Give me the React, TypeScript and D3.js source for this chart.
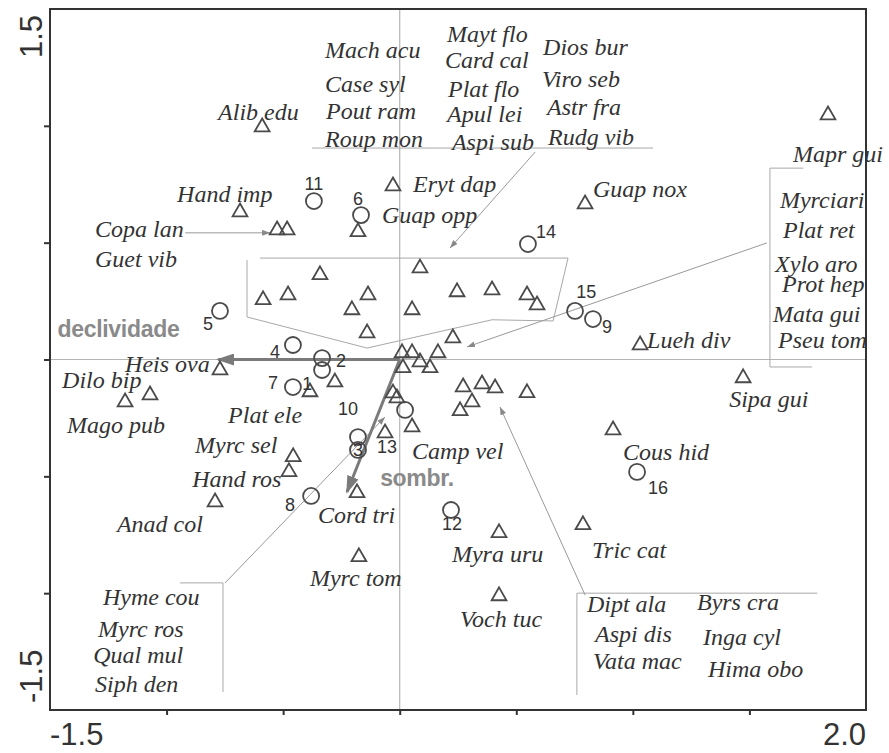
import React, { useRef, useEffect } from 'react';
import * as d3 from 'd3';

// species scores (axis 1, axis 2) for species that carry their own label
const speciesScores: [string, number, number][] = [
  ['Alib edu', -0.59, 0.995], ['Hand imp', -0.685, 0.631], ['Copa lan', -0.526, 0.554],
  ['Guet vib', -0.483, 0.554], ['Eryt dap', -0.029, 0.742], ['Guap opp', -0.179, 0.546],
  ['Guap nox', 0.795, 0.665], ['Mapr gui', 1.837, 1.046], ['Lueh div', 1.031, 0.062],
  ['Sipa gui', 1.473, -0.079], ['Cous hid', 0.915, -0.302], ['Tric cat', 0.786, -0.708],
  ['Myra uru', 0.426, -0.742], ['Voch tuc', 0.426, -1.012], ['Myrc tom', -0.175, -0.845],
  ['Cord tri', -0.183, -0.571], ['Camp vel', 0.053, -0.289], ['Anad col', -0.792, -0.61],
  ['Hand ros', -0.475, -0.481], ['Myrc sel', -0.457, -0.417], ['Plat ele', -0.385, -0.139],
  ['Heis ova', -0.771, -0.045], ['Dilo bip', -1.071, -0.152], ['Mago pub', -1.178, -0.182],
];

// species plotted inside the grouped areas (named in the lists)
const groupedScores: [number, number][] = [
  [-0.342, 0.362], [-0.586, 0.255], [-0.479, 0.276], [-0.136, 0.276], [-0.205, 0.212],
  [-0.14, 0.113], [0.087, 0.391], [0.053, 0.212], [0.246, 0.289], [0.396, 0.297],
  [0.546, 0.276], [0.589, 0.233], [0.228, 0.092], [0.01, 0.028], [0.053, 0.028],
  [0.087, -0.011], [0.164, 0.028], [0.014, -0.036], [0.13, -0.036], [-0.278, -0.097],
  [-0.029, -0.144], [-0.012, -0.165], [-0.063, -0.315], [0.272, -0.118], [0.353, -0.105],
  [0.409, -0.122], [0.31, -0.182], [0.259, -0.22], [0.546, -0.143],
];

// where each species name sits (left end of the baseline, in axis units)
const speciesLabels: [string, number, number][] = [
  ['Alib edu', -0.779, 1.025], ['Hand imp', -0.955, 0.674], ['Copa lan', -1.307, 0.524],
  ['Guet vib', -1.307, 0.396], ['Eryt dap', 0.057, 0.716], ['Guap opp', -0.076, 0.584],
  ['Guap nox', 0.829, 0.695], ['Mapr gui', 1.687, 0.845], ['Lueh div', 1.061, 0.049],
  ['Sipa gui', 1.413, -0.203], ['Cous hid', 0.958, -0.43], ['Tric cat', 0.825, -0.85],
  ['Myra uru', 0.224, -0.867], ['Voch tuc', 0.259, -1.145], ['Myrc tom', -0.385, -0.969],
  ['Cord tri', -0.35, -0.7], ['Camp vel', 0.053, -0.426], ['Anad col', -1.213, -0.738],
  ['Hand ros', -0.89, -0.546], ['Myrc sel', -0.878, -0.4], ['Plat ele', -0.736, -0.272],
  ['Heis ova', -1.178, -0.054], ['Dilo bip', -1.448, -0.122], ['Mago pub', -1.427, -0.316],
];

const topList: [string, number, number][] = [
  ['Mach acu', -0.32, 1.29], ['Case syl', -0.32, 1.145], ['Pout ram', -0.316, 1.029],
  ['Roup mon', -0.32, 0.91], ['Mayt flo', 0.203, 1.359], ['Card cal', 0.194, 1.247],
  ['Plat flo', 0.207, 1.124], ['Apul lei', 0.203, 1.016], ['Aspi sub', 0.224, 0.896],
  ['Dios bur', 0.615, 1.303], ['Viro seb', 0.61, 1.166], ['Astr fra', 0.632, 1.046],
  ['Rudg vib', 0.636, 0.918],
];

const rightList: [string, number, number][] = [
  ['Myrciari', 1.631, 0.647], ['Plat ret', 1.644, 0.52], ['Xylo aro', 1.61, 0.374],
  ['Prot hep', 1.64, 0.289], ['Mata gui', 1.601, 0.16], ['Pseu tom', 1.623, 0.049],
];

const bottomLeftList: [string, number, number][] = [
  ['Hyme cou', -1.273, -1.05], ['Myrc ros', -1.294, -1.188],
  ['Qual mul', -1.315, -1.3], ['Siph den', -1.307, -1.423],
];

const bottomRightList: [string, number, number][] = [
  ['Dipt ala', 0.803, -1.081], ['Aspi dis', 0.838, -1.209], ['Vata mac', 0.829, -1.324],
  ['Byrs cra', 1.275, -1.072], ['Inga cyl', 1.301, -1.222], ['Hima obo', 1.322, -1.359],
];

// sample sites: id, axis 1, axis 2, label position
const sites: [string, number, number, number, number][] = [
  ['1', -0.333, -0.045, -0.397, -0.105], ['2', -0.333, 0.006, -0.252, -0.006],
  ['3', -0.179, -0.387, -0.179, -0.387], ['4', -0.458, 0.062, -0.535, 0.032],
  ['5', -0.771, 0.208, -0.822, 0.152], ['6', -0.166, 0.618, -0.179, 0.687],
  ['7', -0.458, -0.118, -0.543, -0.1], ['8', -0.38, -0.584, -0.471, -0.623],
  ['9', 0.829, 0.173, 0.889, 0.139], ['10', -0.179, -0.332, -0.222, -0.212],
  ['11', -0.368, 0.678, -0.368, 0.751], ['12', 0.22, -0.644, 0.224, -0.704],
  ['13', 0.023, -0.216, -0.054, -0.374], ['14', 0.55, 0.494, 0.628, 0.546],
  ['15', 0.752, 0.208, 0.8, 0.289], ['16', 1.018, -0.481, 1.108, -0.55],
];

// environmental vectors: name, tip, label position
const envVars: [string, number, number, number, number][] = [
  ['declividade', -0.779, 0.0, -1.468, 0.096],
  ['sombr.', -0.226, -0.567, -0.084, -0.54],
];

// connector lines between the name groups and their points
const guideLines: [number, number][][] = [
  [[-0.376, 0.905], [1.087, 0.905]],
  [[-0.599, 0.434], [0.722, 0.434], [0.658, 0.165], [0.396, 0.17], [-0.14, 0.049], [-0.655, 0.182], [-0.655, 0.426]],
  [[1.731, 0.819], [1.588, 0.819], [1.588, -0.032], [1.768, -0.032]],
  [[-0.942, -0.956], [-0.758, -0.956], [-0.758, -1.423]],
  [[1.791, -1.0], [0.76, -1.0], [0.76, -1.436]],
];
const guideArrows: [number, number, number, number][] = [
  [0.581, 0.888, 0.216, 0.477],
  [-0.92, 0.542, -0.556, 0.542],
  [1.575, 0.499, 0.289, 0.054],
  [-0.749, -0.956, -0.063, -0.246],
  [0.795, -1.008, 0.43, -0.203],
];

const W = 889;
const H = 753;

const Biplot = () => {
  const svgRef = useRef<SVGSVGElement>(null);

  useEffect(() => {
    const svg = d3.select(svgRef.current);
    svg.selectAll('*').remove();

    const x = d3.scaleLinear().domain([-1.5, 2.0]).range([50, 866]);
    const y = d3.scaleLinear().domain([-1.5, 1.5]).range([710, 9]);

    const defs = svg.append('defs');
    defs.append('marker')
      .attr('id', 'envHead').attr('viewBox', '0 0 18 12')
      .attr('refX', 16).attr('refY', 6)
      .attr('markerWidth', 18).attr('markerHeight', 12)
      .attr('markerUnits', 'userSpaceOnUse').attr('orient', 'auto')
      .append('path').attr('d', 'M0,0 L18,6 L0,12 Z').attr('fill', '#7a7a7a');
    defs.append('marker')
      .attr('id', 'smallHead').attr('viewBox', '0 0 8 6')
      .attr('refX', 8).attr('refY', 3)
      .attr('markerWidth', 8).attr('markerHeight', 6)
      .attr('markerUnits', 'userSpaceOnUse').attr('orient', 'auto')
      .append('path').attr('d', 'M0,0 L8,3 L0,6 Z').attr('fill', '#888');

    // zero lines
    svg.append('line')
      .attr('x1', x(-1.5)).attr('x2', x(2)).attr('y1', y(0)).attr('y2', y(0))
      .attr('stroke', '#b5b5b5').attr('stroke-width', 1.2);
    svg.append('line')
      .attr('x1', x(0)).attr('x2', x(0)).attr('y1', y(1.5)).attr('y2', y(-1.5))
      .attr('stroke', '#b5b5b5').attr('stroke-width', 1.2);

    // group guides
    const line = d3.line<[number, number]>().x(d => x(d[0])).y(d => y(d[1]));
    svg.selectAll('.guide')
      .data(guideLines)
      .join('path')
      .attr('class', 'guide')
      .attr('d', d => line(d))
      .attr('fill', 'none').attr('stroke', '#a8a8a8').attr('stroke-width', 1);
    svg.selectAll('.guide-arrow')
      .data(guideArrows)
      .join('line')
      .attr('class', 'guide-arrow')
      .attr('x1', d => x(d[0])).attr('y1', d => y(d[1]))
      .attr('x2', d => x(d[2])).attr('y2', d => y(d[3]))
      .attr('stroke', '#999').attr('stroke-width', 1)
      .attr('marker-end', 'url(#smallHead)');

    // environmental arrows
    svg.selectAll('.env')
      .data(envVars)
      .join('line')
      .attr('class', 'env')
      .attr('x1', x(0)).attr('y1', y(0))
      .attr('x2', d => x(d[1])).attr('y2', d => y(d[2]))
      .attr('stroke', '#7a7a7a').attr('stroke-width', 3)
      .attr('marker-end', 'url(#envHead)');
    svg.selectAll('.env-label')
      .data(envVars)
      .join('text')
      .attr('class', 'env-label')
      .attr('x', d => x(d[3])).attr('y', d => y(d[4]))
      .attr('font-family', '"Liberation Sans", Arial, sans-serif')
      .attr('font-weight', 'bold').attr('font-size', 23)
      .attr('letter-spacing', -0.3)
      .attr('fill', '#8a8a8a')
      .text(d => d[0]);

    // species triangles
    const tri = d3.symbol().type(d3.symbolTriangle).size(95);
    const allSpecies: [number, number][] = [
      ...speciesScores.map(d => [d[1], d[2]] as [number, number]),
      ...groupedScores,
    ];
    svg.selectAll('.sp')
      .data(allSpecies)
      .join('path')
      .attr('class', 'sp')
      .attr('transform', d => `translate(${x(d[0])},${y(d[1])})`)
      .attr('d', tri())
      .attr('fill', 'none').attr('stroke', '#4a4a4a').attr('stroke-width', 1.8);

    // site circles
    svg.selectAll('.site')
      .data(sites)
      .join('circle')
      .attr('class', 'site')
      .attr('cx', d => x(d[1])).attr('cy', d => y(d[2]))
      .attr('r', 8)
      .attr('fill', 'none').attr('stroke', '#4a4a4a').attr('stroke-width', 1.8);
    svg.selectAll('.site-label')
      .data(sites)
      .join('text')
      .attr('class', 'site-label')
      .attr('x', d => x(d[3])).attr('y', d => y(d[4]))
      .attr('text-anchor', 'middle').attr('dominant-baseline', 'central')
      .attr('font-family', '"Liberation Sans", Arial, sans-serif')
      .attr('font-size', 18).attr('fill', '#333')
      .text(d => d[0]);

    // species names
    const names = [...speciesLabels, ...topList, ...rightList, ...bottomLeftList, ...bottomRightList];
    svg.selectAll('.name')
      .data(names)
      .join('text')
      .attr('class', 'name')
      .attr('x', d => x(d[1])).attr('y', d => y(d[2]))
      .attr('font-family', '"Liberation Serif", "Times New Roman", serif')
      .attr('font-style', 'italic').attr('font-size', 24)
      .attr('fill', '#333')
      .text(d => d[0]);

    // frame and ticks
    const frame = svg.append('g');
    frame.append('g')
      .attr('transform', `translate(0,${y(-1.5)})`)
      .call(d3.axisBottom(x).tickValues([-1, -0.5, 0, 0.5, 1, 1.5]).tickSize(5).tickSizeOuter(0).tickFormat(() => ''));
    frame.append('g')
      .attr('transform', `translate(${x(-1.5)},0)`)
      .call(d3.axisLeft(y).tickValues([-1, -0.5, 0, 0.5, 1]).tickSize(6).tickSizeOuter(0).tickFormat(() => ''));
    frame.selectAll('.domain').remove();
    frame.selectAll('line').attr('stroke', '#333').attr('stroke-width', 2);
    frame.append('rect')
      .attr('x', x(-1.5)).attr('y', y(1.5))
      .attr('width', x(2) - x(-1.5)).attr('height', y(-1.5) - y(1.5))
      .attr('fill', 'none').attr('stroke', '#333').attr('stroke-width', 2);

    // end labels of the axes
    const endFont = '"Liberation Sans", Arial, sans-serif';
    frame.append('text')
      .attr('transform', `translate(42,${y(1.5) + 6}) rotate(-90)`)
      .attr('text-anchor', 'end')
      .attr('font-family', endFont).attr('font-size', 31).attr('fill', '#333')
      .text('1.5');
    frame.append('text')
      .attr('transform', `translate(42,${y(-1.5) - 7}) rotate(-90)`)
      .attr('text-anchor', 'start')
      .attr('font-family', endFont).attr('font-size', 31).attr('fill', '#333')
      .text('-1.5');
    frame.append('text')
      .attr('x', x(-1.5)).attr('y', 745)
      .attr('font-family', endFont).attr('font-size', 31).attr('fill', '#333')
      .text('-1.5');
    frame.append('text')
      .attr('x', x(2)).attr('y', 745)
      .attr('text-anchor', 'end')
      .attr('font-family', endFont).attr('font-size', 31).attr('fill', '#333')
      .text('2.0');
  }, []);

  return (
    <svg ref={svgRef} width={W} height={H}
      style={{ position: 'absolute', left: 0, top: 0, background: '#fff' }} />
  );
};

export default function App() {
  return <Biplot />;
}
